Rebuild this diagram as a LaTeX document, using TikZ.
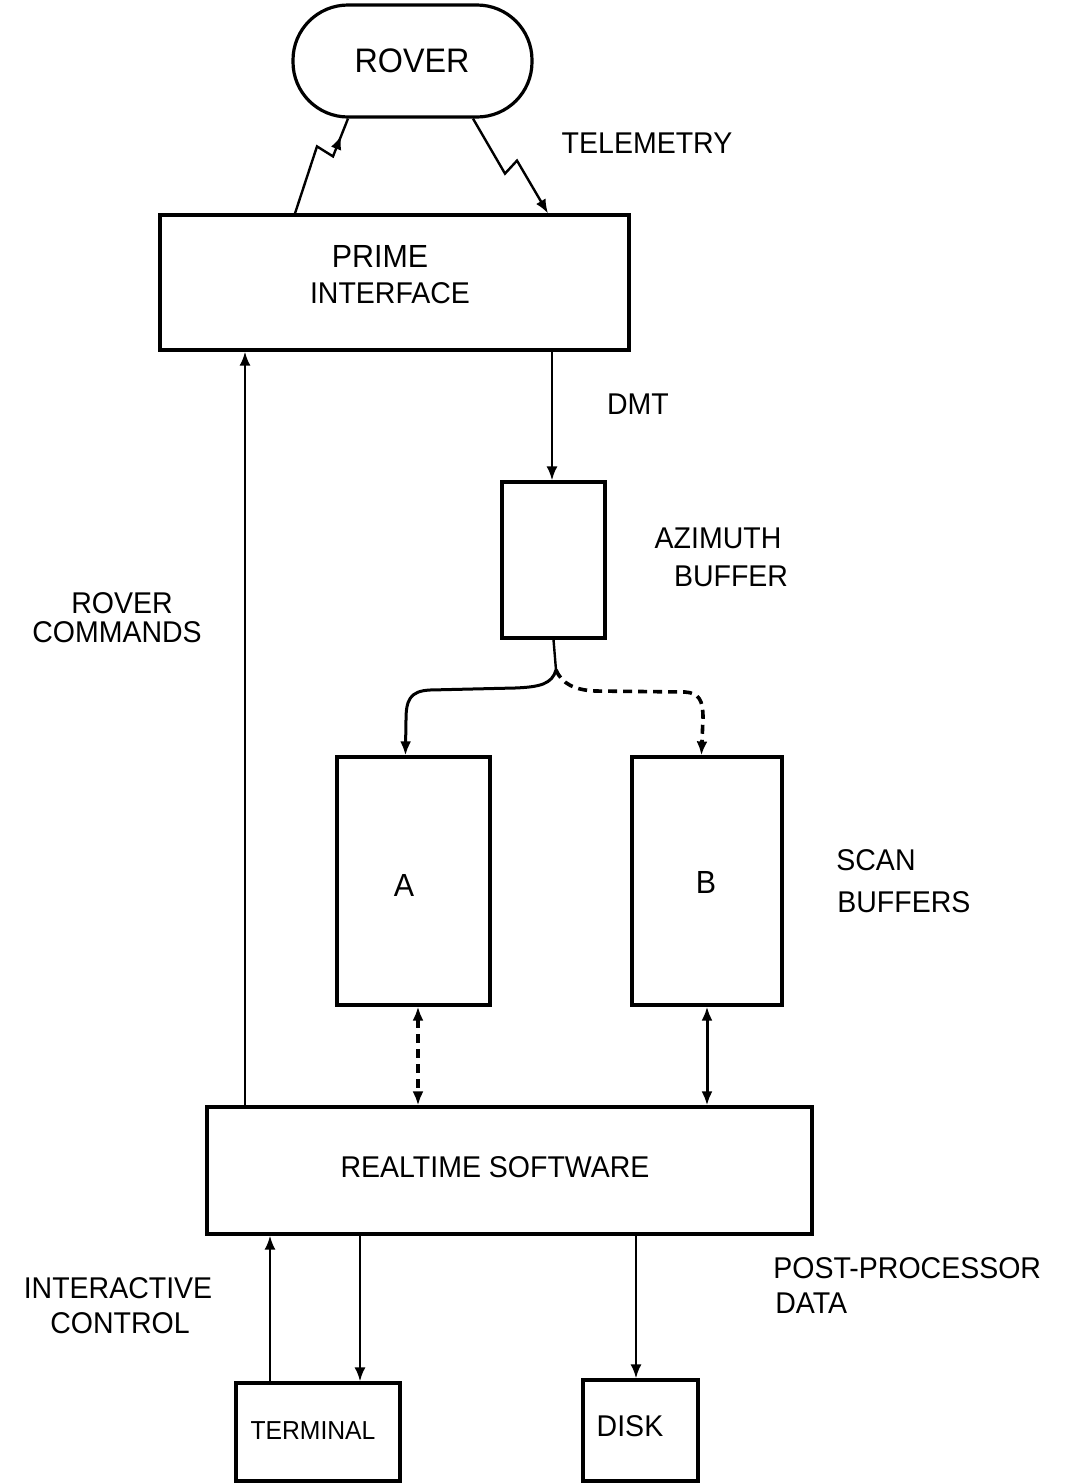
\documentclass[tikz,border=0pt]{standalone}
\usepackage{fontspec}
\setmainfont{Liberation Sans}[FakeStretch=0.95]
\usetikzlibrary{arrows.meta,fit,calc,decorations.markings}
\begin{document}
\begin{tikzpicture}[x=0.5pt,y=-0.5pt,
  box/.style={draw, line width=1.6pt, inner sep=0pt},
  lbl/.style={inner sep=0pt, font=\fontsize{15}{18}\selectfont},
  conn/.style={line width=1.2pt},
  tip/.style={-{Latex[length=7pt,width=5.5pt]}},
  dtip/.style={{Latex[length=7pt,width=5.5pt]}-{Latex[length=7pt,width=5.5pt]}},
  dsh/.style={line width=1.8pt, dash pattern=on 4.5pt off 3pt},
  midtip/.style={postaction={decorate}, decoration={markings,
      mark=at position #1 with {\arrow{Latex[length=7pt,width=5.5pt]}}}}
]
\useasboundingbox[fill=white] (0,0) rectangle (1077,1484);

% boxes
\node[box, rounded corners=27.5pt, fit={(293,5)(532,117)}] (rover) {};
\node[box, fit={(160,215)(629,350)}] (prime) {};
\node[box, fit={(502,482)(605,638)}] (azi) {};
\node[box, fit={(337,757)(490,1005)}] (A) {};
\node[box, fit={(632,757)(782,1005)}] (B) {};
\node[box, fit={(207,1107)(812,1234)}] (rt) {};
\node[box, fit={(236,1383)(400,1481)}] (term) {};
\node[box, fit={(583,1380)(698,1481)}] (disk) {};

% texts
\node[lbl, font=\fontsize{17}{20}\selectfont] (tRover) at (412,61) {ROVER};
\node[lbl] (tTele) at (647,143) {TELEMETRY};
\node[lbl, font=\fontsize{16}{19}\selectfont] (tPrime) at (380,256) {PRIME};
\node[lbl] (tIface) at (390,293) {INTERFACE};
\node[lbl] (tDmt) at (638,404) {DMT};
\node[lbl] (tAzi) at (718,538) {AZIMUTH};
\node[lbl] (tBuf) at (731,576) {BUFFER};
\node[lbl] (tRc1) at (122,603) {ROVER};
\node[lbl] (tRc2) at (117,632) {COMMANDS};
\node[lbl, font=\fontsize{16}{19}\selectfont] (tA) at (404,885) {A};
\node[lbl, font=\fontsize{16}{19}\selectfont] (tB) at (706,882) {B};
\node[lbl, anchor=west] (tScan) at (836,860) {SCAN};
\node[lbl, anchor=west] (tSbuf) at (837,902) {BUFFERS};
\node[lbl] (tRt) at (495,1167) {REALTIME SOFTWARE};
\node[lbl] (tInt) at (118,1288) {INTERACTIVE};
\node[lbl] (tCtl) at (120,1323) {CONTROL};
\node[lbl, anchor=west] (tPost) at (773,1268) {POST-PROCESSOR};
\node[lbl, anchor=west] (tData) at (775,1303) {DATA};
\node[lbl, font=\fontsize{13}{16}\selectfont] (tTerm) at (313,1431) {TERMINAL};
\node[lbl] (tDisk) at (630,1426) {DISK};

% x positions
\coordinate (xz1) at (295,0);
\coordinate (xz2) at (348,0);
\coordinate (xz3) at (473,0);
\coordinate (xz4) at (548,0);
\coordinate (xcmd) at (245,0);
\coordinate (xdmt) at (552,0);
\coordinate (xaa) at (418,0);
\coordinate (xbb) at (707,0);
\coordinate (xt1) at (270,0);
\coordinate (xt2) at (360,0);
\coordinate (xd) at (636,0);
\coordinate (split) at (556,670);

% zigzag links
\draw[conn, midtip=0.86] (prime.north -| xz1) -- ++(22,-67) -- ++(16,10) -- (rover.south -| xz2);
\draw[conn, tip] (rover.south -| xz3) -- ++(32,55) -- ++(12,-13) -- (prime.north -| xz4);

% DMT
\draw[conn, tip] (prime.south -| xdmt) -- (azi.north -| xdmt);

% split to scan buffers
\draw[conn] (azi.south) -- (split);
\draw[conn, line width=1.5pt, tip] (split) .. controls (552,684) and (540,687) .. (515,688) -- (430,690)
  .. controls (410,691) and (406,700) .. (406,720) -- ($(A.north west)+(70,0)$);
\draw[dsh, tip] (split) .. controls (562,684) and (575,690) .. (595,691) -- (685,692)
  .. controls (699,693) and (703,700) .. (703,718) -- ($(B.north west)+(71,0)$);

% scan buffers to realtime
\draw[dsh, dtip] (A.south -| xaa) -- (rt.north -| xaa);
\draw[conn, line width=1.5pt, dtip] (B.south -| xbb) -- (rt.north -| xbb);

% rover commands
\draw[conn, tip] (rt.north -| xcmd) -- (prime.south -| xcmd);

% terminal and disk
\draw[conn, tip] (term.north -| xt1) -- (rt.south -| xt1);
\draw[conn, tip] (rt.south -| xt2) -- (term.north -| xt2);
\draw[conn, tip] (rt.south -| xd) -- (disk.north -| xd);
\end{tikzpicture}
\end{document}
